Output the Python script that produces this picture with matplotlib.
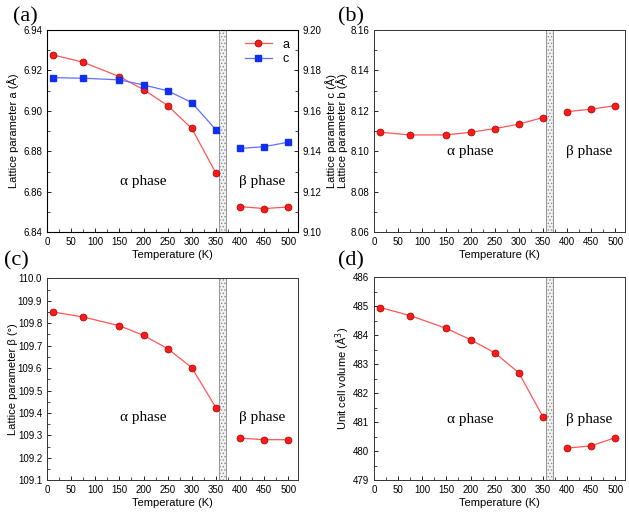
import matplotlib.pyplot as plt
import numpy as np

T = [13, 75, 150, 200, 250, 300, 350, 400, 450, 500]
a_val = [6.9276, 6.9240, 6.9169, 6.9105, 6.9026, 6.8913, 6.8692, 6.8527, 6.8517, 6.8525]
c_val = [9.1764, 9.1761, 9.1753, 9.1728, 9.1699, 9.1641, 9.1506, 9.1414, 9.1423, 9.1445]
b_val = [8.1094, 8.1081, 8.1081, 8.1094, 8.1112, 8.1134, 8.1167, 8.1196, 8.1208, 8.1226]
beta_val = [109.850, 109.828, 109.789, 109.746, 109.687, 109.602, 109.424, 109.288, 109.281, 109.281]
V_val = [484.96, 484.68, 484.24, 483.85, 483.40, 482.71, 481.19, 480.11, 480.19, 480.47]

plt.rcParams['font.family'] = ['Liberation Sans', 'DejaVu Sans']
plt.rcParams['hatch.color'] = '#777777'
plt.rcParams['hatch.linewidth'] = 0.6

RED = '#ff1a1a'
RED_LINE = '#ff5555'
BLUE = '#1030f0'
BLUE_LINE = '#6070ff'


def style_ax(ax, ylim, ystep, fmt):
    ax.set_xlim(0, 520)
    ax.set_ylim(*ylim)
    ax.set_xticks(np.arange(0, 501, 50))
    ax.set_xticks(np.arange(25, 520, 50), minor=True)
    yt = np.arange(ylim[0], ylim[1] + ystep / 2, ystep)
    ax.set_yticks(yt)
    ax.set_yticks(yt[:-1] + ystep / 2, minor=True)
    ax.set_yticklabels([fmt.format(v) for v in yt])
    ax.tick_params(direction='in', labelsize=7, length=3, width=0.6)
    ax.tick_params(which='minor', direction='in', length=2, width=0.5)
    for s in ax.spines.values():
        s.set_linewidth(0.7)
        s.set_color('#333333')
    ax.axvspan(357, 371, facecolor='#f2f2f2', edgecolor='#888888',
               hatch='.....', linewidth=0.6, zorder=0)
    ax.set_xlabel('Temperature (K)', fontsize=8, labelpad=2)


def plot_series(ax, y, color, line, marker):
    ax.plot(T[:7], y[:7], color=line, lw=0.9, marker=marker, ms=5,
            mfc=color, mec='#990000', mew=0.5)
    ax.plot(T[7:], y[7:], color=line, lw=0.9, marker=marker, ms=5,
            mfc=color, mec='#990000', mew=0.5)


def phase_text(ax, y):
    ax.text(200, y, 'α phase', family='Liberation Serif', fontsize=11, ha='center', va='center')
    ax.text(445, y, 'β phase', family='Liberation Serif', fontsize=11, ha='center', va='center')


fig = plt.figure(figsize=(6.29, 5.15), dpi=100)

# (a)
ax1 = fig.add_axes([0.0747, 0.549, 0.399, 0.393])
style_ax(ax1, (6.84, 6.94), 0.02, '{:.2f}')
la, = ax1.plot(T[:7], a_val[:7], color=RED_LINE, lw=0.9, marker='o', ms=5,
               mfc=RED, mec='#990000', mew=0.5)
ax1.plot(T[7:], a_val[7:], color=RED_LINE, lw=0.9, marker='o', ms=5,
         mfc=RED, mec='#990000', mew=0.5)
ax1.set_ylabel('Lattice parameter a (Å)', fontsize=8)
ax1.yaxis.set_label_coords(-0.113, 0.5)
phase_text(ax1, 6.865)
ax1b = ax1.twinx()
ax1b.set_ylim(9.10, 9.20)
yt = np.arange(9.10, 9.201, 0.02)
ax1b.set_yticks(yt)
ax1b.set_yticks(yt[:-1] + 0.01, minor=True)
ax1b.set_yticklabels(['{:.2f}'.format(v) for v in yt])
ax1b.tick_params(direction='in', labelsize=7, length=3, width=0.6)
ax1b.tick_params(which='minor', direction='in', length=2, width=0.5)
lc, = ax1b.plot(T[:7], c_val[:7], color=BLUE_LINE, lw=0.9, marker='s', ms=4.5,
                mfc=BLUE, mec=BLUE)
ax1b.plot(T[7:], c_val[7:], color=BLUE_LINE, lw=0.9, marker='s', ms=4.5,
          mfc=BLUE, mec=BLUE)
ax1b.set_ylabel('Lattice parameter c (Å)', fontsize=8)
ax1b.yaxis.set_label_coords(1.109, 0.5)
ax1.legend([la, lc], ['a', 'c'], loc='upper right', frameon=False, fontsize=9,
           handlelength=2.2, borderaxespad=0.3, labelspacing=0.2)

# (b)
ax2 = fig.add_axes([0.5946, 0.549, 0.399, 0.393])
style_ax(ax2, (8.06, 8.16), 0.02, '{:.2f}')
plot_series(ax2, b_val, RED, RED_LINE, 'o')
ax2.set_ylabel('Lattice parameter b (Å)', fontsize=8)
ax2.yaxis.set_label_coords(-0.104, 0.5)
phase_text(ax2, 8.0999)

# (c)
ax3 = fig.add_axes([0.0747, 0.0674, 0.399, 0.392])
style_ax(ax3, (109.1, 110.0), 0.1, '{:.1f}')
plot_series(ax3, beta_val, RED, RED_LINE, 'o')
ax3.set_ylabel('Lattice parameter β (°)', fontsize=8)
ax3.yaxis.set_label_coords(-0.117, 0.5)
phase_text(ax3, 109.38)

# (d)
ax4 = fig.add_axes([0.5946, 0.0674, 0.399, 0.394])
style_ax(ax4, (479, 486), 1, '{:.0f}')
plot_series(ax4, V_val, RED, RED_LINE, 'o')
ax4.set_ylabel('Unit cell volume (Å$^3$)', fontsize=8)
ax4.yaxis.set_label_coords(-0.088, 0.5)
phase_text(ax4, 481.1)

for lab, x, y in [('(a)', 0.02, 0.958), ('(b)', 0.537, 0.958),
                  ('(c)', 0.006, 0.484), ('(d)', 0.537, 0.484)]:
    fig.text(x, y, lab, family='Liberation Serif', fontsize=16)

plt.savefig('out.png', dpi=100)
